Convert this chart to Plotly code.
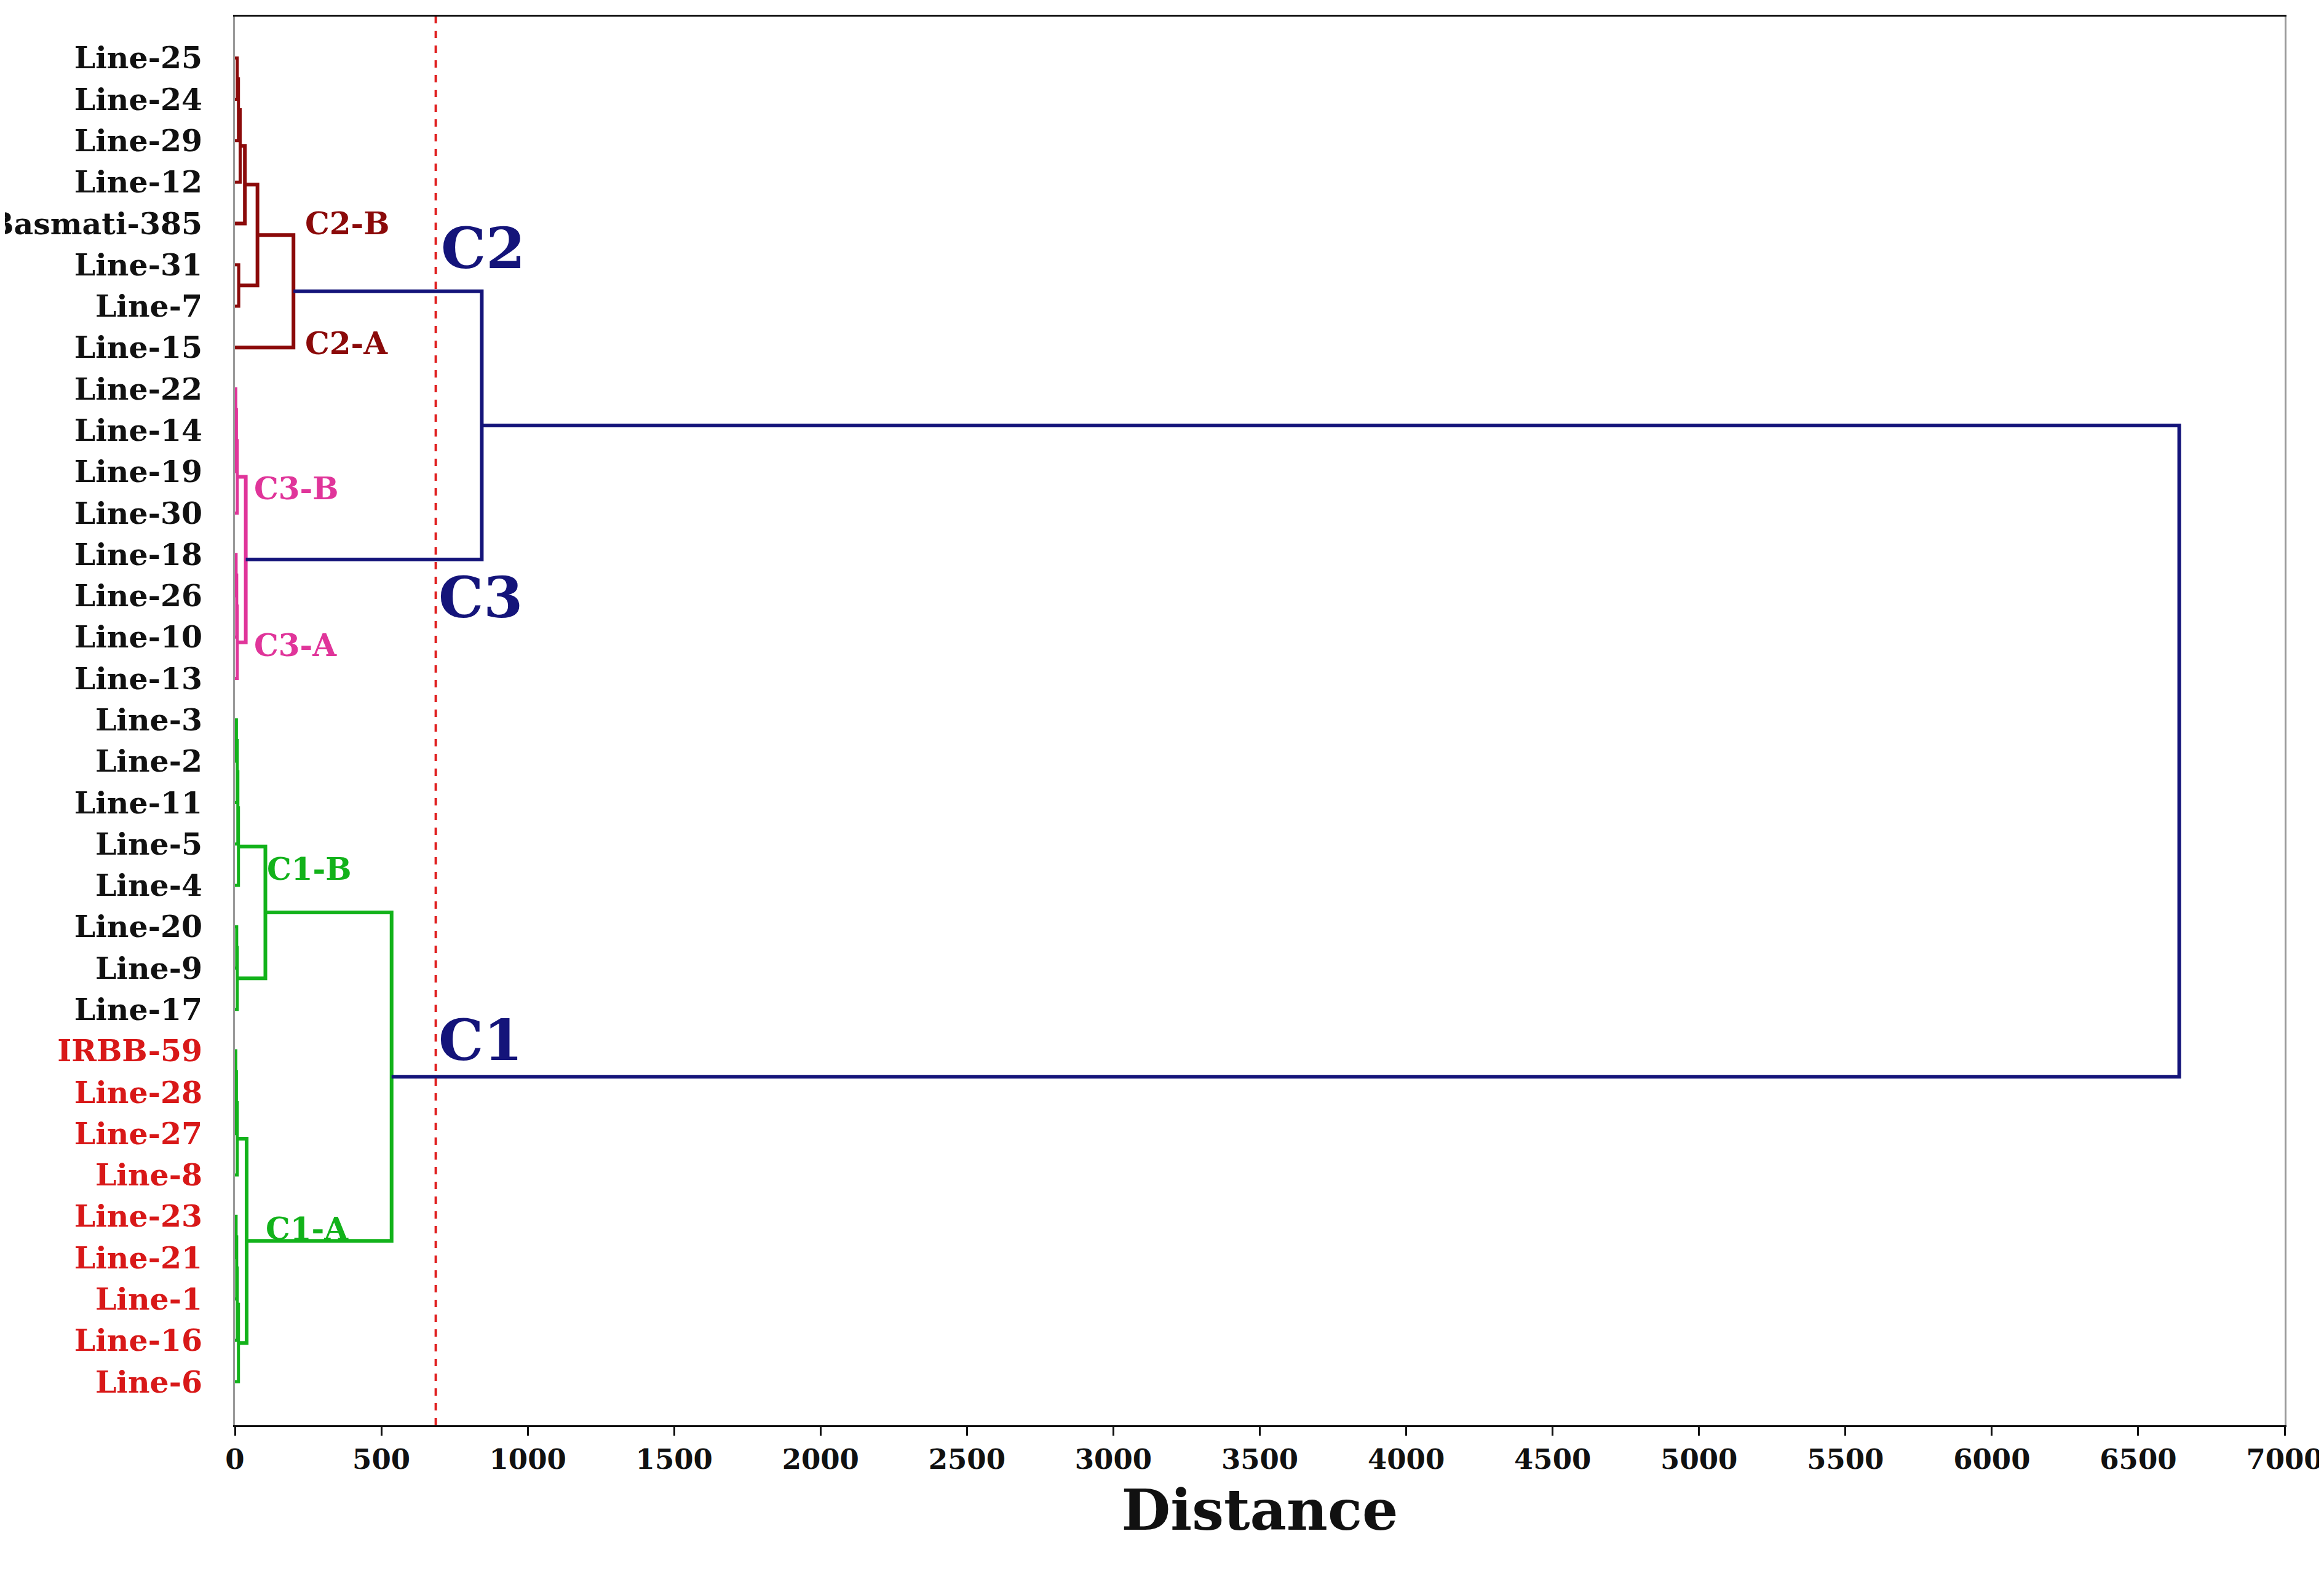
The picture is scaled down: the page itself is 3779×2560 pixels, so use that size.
import plotly.graph_objects as go

leaves = ["Line-25","Line-24","Line-29","Line-12","Basmati-385","Line-31","Line-7","Line-15",
          "Line-22","Line-14","Line-19","Line-30","Line-18","Line-26","Line-10","Line-13",
          "Line-3","Line-2","Line-11","Line-5","Line-4","Line-20","Line-9","Line-17",
          "IRBB-59","Line-28","Line-27","Line-8","Line-23","Line-21","Line-1","Line-16","Line-6"]
red_leaves = ["IRBB-59","Line-28","Line-27","Line-8","Line-23","Line-21","Line-1","Line-16","Line-6"]

C2C, C3C, C1C, BLUE = "#8b0a0a", "#e0359a", "#12b21a", "#14147a"
# merges: (name, left, right, height, colour); leaves referenced by index
merges = [
    ("a0", 0, 1, 8, C2C), ("a1", "a0", 2, 12, C2C), ("a2", "a1", 3, 18, C2C), ("a3", "a2", 4, 34, C2C),
    ("a4", 5, 6, 13, C2C), ("a5", "a3", "a4", 77, C2C), ("C2", "a5", 7, 200, C2C),
    ("b0", 8, 9, 3, C3C), ("b1", "b0", 10, 5, C3C), ("b2", "b1", 11, 8, C3C),
    ("b3", 12, 13, 4, C3C), ("b4", "b3", 14, 6, C3C), ("b5", "b4", 15, 8, C3C), ("C3", "b2", "b5", 37, C3C),
    ("c0", 16, 17, 5, C1C), ("c1", "c0", 18, 8, C1C), ("c2", "c1", 19, 10, C1C), ("c3", "c2", 20, 12, C1C),
    ("c4", 21, 22, 6, C1C), ("c5", "c4", 23, 8, C1C), ("c6", "c3", "c5", 104, C1C),
    ("d0", 24, 25, 3, C1C), ("d1", "d0", 26, 5, C1C), ("d2", "d1", 27, 8, C1C),
    ("d3", 28, 29, 4, C1C), ("d4", "d3", 30, 6, C1C), ("d5", "d4", 31, 8, C1C), ("d6", "d5", 32, 12, C1C),
    ("d7", "d2", "d6", 40, C1C), ("C1", "c6", "d7", 535, C1C),
    ("C23", "C2", "C3", 843, BLUE), ("root", "C1", "C23", 6640, BLUE),
]
cut = 686
sub_labels = [("C2-B", 235, 4.0, C2C), ("C2-A", 235, 6.9, C2C), ("C3-B", 60, 10.4, C3C),
              ("C3-A", 60, 14.2, C3C), ("C1-B", 105, 19.6, C1C), ("C1-A", 100, 28.3, C1C)]
big_labels = [("C2", 700, 4.6), ("C3", 690, 13.05), ("C1", 690, 23.75)]
xticks = list(range(0, 7001, 500))

pos = {i: (0.0, float(i)) for i in range(len(leaves))}
fig = go.Figure()
for name, l, r, h, col in merges:
    xl, yl = pos[l]; xr, yr = pos[r]
    w = 6 if h > 30 else 5
    fig.add_trace(go.Scatter(x=[xl, h, h, xr], y=[yl, yl, yr, yr], mode="lines",
                             line=dict(color=col, width=w), showlegend=False, hoverinfo="skip"))
    pos[name] = (h, (yl + yr) / 2)

fig.add_shape(type="line", x0=cut, x1=cut, y0=0, y1=1, yref="paper",
              line=dict(color="#e02020", width=4, dash="dash"))
font = "DejaVu Serif"
for t, x, y, c in sub_labels:
    fig.add_annotation(x=x, y=y, text=f"<b>{t}</b>", showarrow=False, xanchor="left",
                       font=dict(family=font, size=50, color=c))
for t, x, y in big_labels:
    fig.add_annotation(x=x, y=y, text=f"<b>{t}</b>", showarrow=False, xanchor="left",
                       font=dict(family=font, size=92, color=BLUE))

ticktext = [f"<b><span style='color:{'#d81818' if n in red_leaves else '#111'}'>{n}</span></b>" for n in leaves]
fig.update_layout(
    width=3779, height=2560, plot_bgcolor="white", paper_bgcolor="white",
    margin=dict(l=374, r=72, t=19, b=250, autoexpand=False),
    font=dict(family=font, size=48, color="#111"),
    xaxis=dict(range=[0, 7000], tickvals=xticks, ticktext=[f"<b>{v}</b>" for v in xticks],
               tickfont=dict(size=45), ticks="outside", ticklen=14, tickwidth=3, tickcolor="#111",
               showline=True, linecolor="#111", linewidth=3, mirror=True, showgrid=False, zeroline=False,
               automargin=False,
               title=dict(text="<b>Distance</b>", font=dict(size=92), standoff=25)),
    yaxis=dict(range=[33.05, -1.0], tickvals=list(range(len(leaves))), ticktext=ticktext,
               tickfont=dict(size=49), ticks="", ticklabelstandoff=40, showline=True,
               linecolor="#999", linewidth=3, automargin=False,
               mirror=True, showgrid=False, zeroline=False),
)
fig.write_html("out.html")
